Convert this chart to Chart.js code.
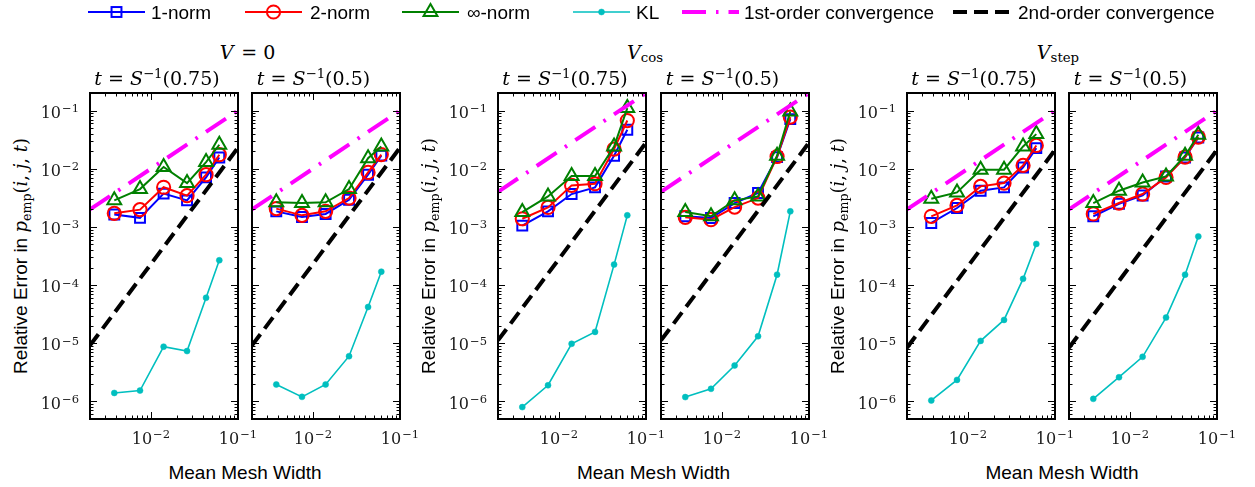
<!DOCTYPE html>
<html>
<head>
<meta charset="utf-8">
<script src="https://cdn.jsdelivr.net/npm/chart.js@4.4.1/dist/chart.umd.min.js"></script>
<style>
  html, body { margin: 0; padding: 0; background: #fff; }
  #fig { position: relative; width: 1255px; height: 487px; overflow: hidden; background: #fff; }
  #fig canvas { position: absolute; }
  .t { position: absolute; white-space: nowrap; line-height: 1; color: #000; }
  .serif { font-family: 'DejaVu Serif', serif; }
  .sans { font-family: 'Liberation Sans', Arial, sans-serif; }
  .tick { font-family: 'DejaVu Serif', serif; font-size: 16px; color: #1a1a1a; }
  .tick sup { font-size: 0.72em; position: relative; top: -0.5em; vertical-align: baseline; margin-left: 1px; }
  .ttl { font-size: 19px; }
  .ttl sup { font-size: 0.7em; position: relative; top: -0.5em; vertical-align: baseline; }
  .ttl sub { font-size: 0.7em; position: relative; top: 0.3em; vertical-align: baseline; font-style: normal; }
  .axt { font-size: 19px; }
  .axt .m { font-family: 'DejaVu Serif', serif; font-size: 18px; }
  .axt sub { font-size: 0.7em; position: relative; top: 0.3em; vertical-align: baseline; }
  .leg { font-size: 19px; }
  svg.sym { position: absolute; overflow: visible; }
</style>
</head>
<body>
<div id="fig"></div>
<script>
// Mean mesh width of the six refinement levels (shared by every panel)
const meshWidth = [0.0038, 0.0075, 0.014, 0.026, 0.043, 0.061];

// V = 0, t = S^-1(0.75)
const zero75Norm1 = [1.63e-3, 1.43e-3, 3.73e-3, 2.86e-3, 7.1e-3, 1.56e-2];
const zero75Norm2 = [1.71e-3, 1.98e-3, 4.8e-3, 3.44e-3, 7.9e-3, 1.74e-2];
const zero75NormInf = [2.86e-3, 4.47e-3, 1.07e-2, 5.66e-3, 1.3e-2, 2.58e-2];
const zero75KL = [1.4e-6, 1.54e-6, 8.75e-6, 7.35e-6, 6.05e-5, 2.67e-4];

// V = 0, t = S^-1(0.5)
const zero50Norm1 = [1.85e-3, 1.48e-3, 1.67e-3, 2.93e-3, 7.87e-3, 1.68e-2];
const zero50Norm2 = [2.06e-3, 1.58e-3, 1.85e-3, 3.13e-3, 8.63e-3, 1.75e-2];
const zero50NormInf = [2.64e-3, 2.57e-3, 2.64e-3, 4.47e-3, 1.52e-2, 2.41e-2];
const zero50KL = [1.96e-6, 1.2e-6, 1.96e-6, 6.0e-6, 4.2e-5, 1.7e-4];

// V_cos, t = S^-1(0.75)
const cos75Norm1 = [1.05e-3, 1.85e-3, 3.67e-3, 4.78e-3, 1.67e-2, 4.67e-2];
const cos75Norm2 = [1.38e-3, 2.16e-3, 5.17e-3, 5.52e-3, 2.17e-2, 6.73e-2];
const cos75NormInf = [1.8e-3, 3.34e-3, 7.5e-3, 7.5e-3, 2.41e-2, 1.1e-1];
const cos75KL = [8.0e-7, 1.9e-6, 9.8e-6, 1.57e-5, 2.25e-4, 1.58e-3];

// V_cos, t = S^-1(0.5)
const cos50Norm1 = [1.52e-3, 1.42e-3, 2.57e-3, 3.82e-3, 1.58e-2, 7.12e-2];
const cos50Norm2 = [1.46e-3, 1.33e-3, 2.19e-3, 3.13e-3, 1.62e-2, 7.7e-2];
const cos50NormInf = [1.8e-3, 1.52e-3, 2.86e-3, 3.34e-3, 1.67e-2, 9.6e-2];
const cos50KL = [1.19e-6, 1.65e-6, 4.15e-6, 1.32e-5, 1.51e-4, 1.85e-3];

// V_step, t = S^-1(0.75)
const step75Norm1 = [1.17e-3, 2.11e-3, 4.19e-3, 4.78e-3, 1.05e-2, 2.26e-2];
const step75Norm2 = [1.52e-3, 2.34e-3, 4.97e-3, 5.66e-3, 1.14e-2, 2.51e-2];
const step75NormInf = [3.05e-3, 3.92e-3, 9.6e-3, 9.6e-3, 2.41e-2, 3.93e-2];
const step75KL = [1.04e-6, 2.35e-6, 1.1e-5, 2.52e-5, 1.28e-4, 5.09e-4];

// V_step, t = S^-1(0.5)
const step50Norm1 = [1.52e-3, 2.5e-3, 3.47e-3, 7.36e-3, 1.56e-2, 3.44e-2];
const step50Norm2 = [1.67e-3, 2.57e-3, 3.67e-3, 7.08e-3, 1.58e-2, 3.49e-2];
const step50NormInf = [2.57e-3, 4.19e-3, 5.81e-3, 7.36e-3, 1.67e-2, 3.83e-2];
const step50KL = [1.11e-6, 2.61e-6, 5.85e-6, 2.77e-5, 1.51e-4, 6.87e-4];

// Reference slopes: end points at the two ends of the mesh-width axis
const refMesh = [0.002, 0.1];
const firstOrderZero = [0.002, 0.1];
const firstOrderCos = [0.004, 0.2];
const firstOrderStep = [0.002, 0.1];
const secondOrderZero = [9.2e-6, 0.023];
const secondOrderCos = [1.12e-5, 0.028];
const secondOrderStep = [8.4e-6, 0.021];

// Axis ranges and labelled decades
const meshRange = [0.002, 0.1];
const errorRange = [5e-7, 0.2];
const meshDecades = [-2, -1];
const errorDecades = [-6, -5, -4, -3, -2, -1];

// Series appearance
const seriesStyle = {
  norm1: { label: '1-norm', color: '#0000ff', point: 'rect', radius: 7, dash: [] },
  norm2: { label: '2-norm', color: '#ff0000', point: 'circle', radius: 6.6, dash: [] },
  normInf: { label: '\u221e-norm', color: '#008000', point: 'triangle', radius: 8, dash: [] },
  kl: { label: 'KL', color: '#00bfbf', point: 'circle', radius: 3, width: 1.6, dash: [], filled: true },
  first: { label: '1st-order convergence', color: '#ff00ff', point: false, width: 4, dash: [24, 10, 2.5, 10] },
  second: { label: '2nd-order convergence', color: '#000000', point: false, width: 4, dash: [14, 7] }
};

const groups = [
  { title: '<i>V</i>&#8202; = 0', cx: 247.5, first: firstOrderZero, second: secondOrderZero,
    panels: [
      { t: '0.75', n1: zero75Norm1, n2: zero75Norm2, ni: zero75NormInf, kl: zero75KL },
      { t: '0.5', n1: zero50Norm1, n2: zero50Norm2, ni: zero50NormInf, kl: zero50KL }
    ] },
  { title: '<i>V</i><sub>cos</sub>', cx: 645, first: firstOrderCos, second: secondOrderCos,
    panels: [
      { t: '0.75', n1: cos75Norm1, n2: cos75Norm2, ni: cos75NormInf, kl: cos75KL },
      { t: '0.5', n1: cos50Norm1, n2: cos50Norm2, ni: cos50NormInf, kl: cos50KL }
    ] },
  { title: '<i>V</i><sub>step</sub>', cx: 1058, first: firstOrderStep, second: secondOrderStep,
    panels: [
      { t: '0.75', n1: step75Norm1, n2: step75Norm2, ni: step75NormInf, kl: step75KL },
      { t: '0.5', n1: step50Norm1, n2: step50Norm2, ni: step50NormInf, kl: step50KL }
    ] }
];

// Page layout of the plot areas
const panelLeft = [[90, 252], [498, 661], [907, 1069]];
const plotTop = 93, plotW = 148, plotH = 326;
const padL = 70, padT = 10, padR = 10, padB = 30;

const fig = document.getElementById('fig');

function text(html, cls, css) {
  const d = document.createElement('div');
  d.className = 't ' + cls;
  d.innerHTML = html;
  d.style.cssText = css;
  fig.appendChild(d);
  return d;
}

function pts(xs, ys) { return xs.map((x, i) => ({ x, y: ys[i] })); }

function dataset(key, data, order) {
  const s = seriesStyle[key];
  return {
    label: s.label,
    data,
    order,
    borderColor: s.color,
    backgroundColor: s.color,
    borderWidth: s.width || 2,
    borderDash: s.dash,
    tension: 0,
    pointStyle: s.point || 'circle',
    pointRadius: s.point ? s.radius : 0,
    pointBorderColor: s.color,
    pointBackgroundColor: s.filled ? s.color : 'rgba(0,0,0,0)',
    pointBorderWidth: s.filled ? 0.5 : 2,
    pointHoverRadius: 0
  };
}

// Box frame with inward major/minor ticks on all four sides
const frameTicks = {
  id: 'frameTicks',
  afterDraw(chart) {
    const { ctx, chartArea: a } = chart;
    const xs = chart.scales.x, ys = chart.scales.y;
    const marks = (scale) => {
      const out = [];
      const lo = Math.floor(Math.log10(scale.min)), hi = Math.ceil(Math.log10(scale.max));
      for (let e = lo; e <= hi; e++) {
        for (let k = 1; k <= 9; k++) {
          const v = k * Math.pow(10, e);
          if (v > scale.min * 1.0001 && v < scale.max * 0.9999) out.push({ p: scale.getPixelForValue(v), major: k === 1 });
        }
      }
      return out;
    };
    ctx.save();
    ctx.strokeStyle = '#000';
    ctx.lineWidth = 1;
    ctx.beginPath();
    marks(xs).forEach(m => {
      const L = m.major ? 7 : 3.5, x = Math.round(m.p) + 0.5;
      ctx.moveTo(x, a.bottom); ctx.lineTo(x, a.bottom - L);
      ctx.moveTo(x, a.top); ctx.lineTo(x, a.top + L);
    });
    marks(ys).forEach(m => {
      const L = m.major ? 7 : 3.5, y = Math.round(m.p) + 0.5;
      ctx.moveTo(a.left, y); ctx.lineTo(a.left + L, y);
      ctx.moveTo(a.right, y); ctx.lineTo(a.right - L, y);
    });
    ctx.stroke();
    ctx.lineWidth = 2;
    ctx.strokeRect(a.left, a.top, a.right - a.left, a.bottom - a.top);
    ctx.restore();
  }
};

groups.forEach((g, gi) => {
  const left0 = panelLeft[gi][0], left1 = panelLeft[gi][1];
  const pairCenter = (left0 + left1 + plotW) / 2;

  text(g.title, 'serif ttl', `left:${g.cx}px;top:42.5px;transform:translateX(-50%);`);
  text('Mean Mesh Width', 'sans axt', `left:${pairCenter}px;top:462.5px;transform:translateX(-50%);`);
  text('Relative Error in <span class="m"><i>p</i><sub>emp</sub>(<i>i</i>, <i>j</i>, <i>t</i>)</span>', 'sans axt',
       `left:${left0 - 70}px;top:256px;transform:translate(-50%,-50%) rotate(-90deg);`);

  g.panels.forEach((p, pi) => {
    const L = panelLeft[gi][pi];
    const c = document.createElement('canvas');
    const cw = padL + plotW + padR, ch = padT + plotH + padB;
    c.width = cw; c.height = ch;
    c.style.left = (L - padL) + 'px';
    c.style.top = (plotTop - padT) + 'px';
    c.style.width = cw + 'px';
    c.style.height = ch + 'px';
    fig.appendChild(c);

    const chart = new Chart(c, {
      type: 'line',
      data: {
        datasets: [
          dataset('norm1', pts(meshWidth, p.n1), 6),
          dataset('norm2', pts(meshWidth, p.n2), 5),
          dataset('normInf', pts(meshWidth, p.ni), 4),
          dataset('kl', pts(meshWidth, p.kl), 3),
          dataset('first', pts(refMesh, g.first), 2),
          dataset('second', pts(refMesh, g.second), 1)
        ]
      },
      options: {
        responsive: false,
        animation: false,
        devicePixelRatio: 1,
        events: [],
        layout: { padding: { left: 0, top: padT, right: padR, bottom: 0 } },
        plugins: { legend: { display: false }, tooltip: { enabled: false } },
        scales: {
          x: {
            type: 'logarithmic', min: meshRange[0], max: meshRange[1], bounds: 'data',
            grid: { display: false }, border: { display: false }, ticks: { display: false },
            afterFit(s) { s.height = padB; }
          },
          y: {
            type: 'logarithmic', min: errorRange[0], max: errorRange[1], bounds: 'data',
            grid: { display: false }, border: { display: false }, ticks: { display: false },
            afterFit(s) { s.width = padL; }
          }
        }
      },
      plugins: [frameTicks]
    });

    const offX = L - padL, offY = plotTop - padT;
    const sx = chart.scales.x, sy = chart.scales.y;

    meshDecades.forEach(e => {
      const px = offX + sx.getPixelForValue(Math.pow(10, e));
      text(`10<sup>\u2212${-e}</sup>`, 'tick', `left:${px}px;top:${plotTop + plotH + 12}px;transform:translateX(-50%);`);
    });
    if (pi === 0) {
      errorDecades.forEach(e => {
        const py = offY + sy.getPixelForValue(Math.pow(10, e));
        text(`10<sup>\u2212${-e}</sup>`, 'tick', `left:${L - 11}px;top:${py - 5.8}px;transform:translateX(-100%);`);
      });
    }
    const tcx = L + plotW / 2 - (p.t === '0.75' ? 7 : 12.5);
    text(`<i>t</i> = <i>S</i><sup>\u22121</sup>(${p.t})`, 'serif ttl', `left:${tcx}px;top:69px;transform:translateX(-50%);`);
  });
});

// Legend row
const legendOrder = ['norm1', 'norm2', 'normInf', 'kl', 'first', 'second'];
const legendSample = [88, 245, 402, 573, 682, 953];
const legendText = [151, 310, 467, 636, 744, 1018];
const sampleLen = 57;
legendOrder.forEach((key, i) => {
  const s = seriesStyle[key];
  const ns = 'http://www.w3.org/2000/svg';
  const svg = document.createElementNS(ns, 'svg');
  svg.setAttribute('class', 'sym');
  svg.setAttribute('width', sampleLen);
  svg.setAttribute('height', 24);
  svg.style.left = legendSample[i] + 'px';
  svg.style.top = '0px';
  const line = document.createElementNS(ns, 'line');
  line.setAttribute('x1', 0); line.setAttribute('x2', sampleLen);
  line.setAttribute('y1', 12); line.setAttribute('y2', 12);
  line.setAttribute('stroke', s.color);
  line.setAttribute('stroke-width', s.width || 2);
  if (s.dash.length) line.setAttribute('stroke-dasharray', s.dash.join(' '));
  svg.appendChild(line);
  const cx = sampleLen / 2, cy = 12;
  let m = null;
  if (s.point === 'rect') {
    const h = s.radius * Math.SQRT1_2;
    m = document.createElementNS(ns, 'rect');
    m.setAttribute('x', cx - h); m.setAttribute('y', cy - h);
    m.setAttribute('width', 2 * h); m.setAttribute('height', 2 * h);
  } else if (s.point === 'circle') {
    m = document.createElementNS(ns, 'circle');
    m.setAttribute('cx', cx); m.setAttribute('cy', cy); m.setAttribute('r', s.radius);
  } else if (s.point === 'triangle') {
    const r = s.radius;
    m = document.createElementNS(ns, 'polygon');
    m.setAttribute('points', [
      [cx, cy - r], [cx + r * Math.sin(2 * Math.PI / 3), cy - r * Math.cos(2 * Math.PI / 3)],
      [cx + r * Math.sin(4 * Math.PI / 3), cy - r * Math.cos(4 * Math.PI / 3)]
    ].map(q => q.join(',')).join(' '));
  }
  if (m) {
    m.setAttribute('stroke', s.color);
    m.setAttribute('stroke-width', s.filled ? 0.5 : 2);
    m.setAttribute('fill', s.filled ? s.color : 'none');
    svg.appendChild(m);
  }
  fig.appendChild(svg);
  text(s.label, 'sans leg', `left:${legendText[i]}px;top:2.5px;`);
});
</script>
</body>
</html>
